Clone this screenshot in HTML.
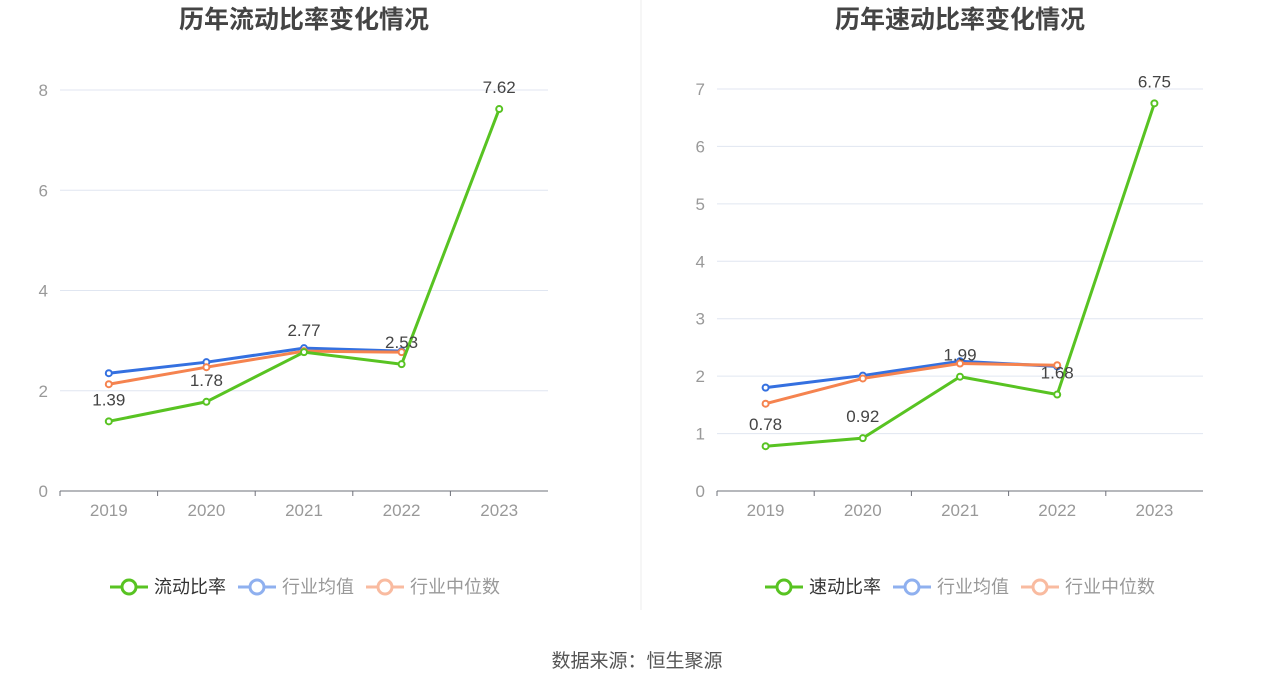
<!DOCTYPE html>
<html><head><meta charset="utf-8">
<style>
body{margin:0;background:#fff;font-family:"Liberation Sans","Noto Sans CJK SC",sans-serif;}
svg text{font-family:"Liberation Sans","Noto Sans CJK SC",sans-serif;}
</style></head>
<body>
<svg id="c" width="1275" height="688" xmlns="http://www.w3.org/2000/svg">
<line x1="641" y1="0" x2="641" y2="610" stroke="#eee" stroke-width="1"/>
<text x="637" y="667" text-anchor="middle" font-size="19" fill="#555">数据来源：恒生聚源</text>
</svg>
<script>
const years=["2019","2020","2021","2022","2023"];
const leftMain=[1.39,1.78,2.77,2.53,7.62];
const leftAvg=[2.35,2.57,2.85,2.79];
const leftMed=[2.13,2.47,2.79,2.77];
const leftTicks=[0,2,4,6,8];
const rightMain=[0.78,0.92,1.99,1.68,6.75];
const rightAvg=[1.80,2.01,2.26,2.17];
const rightMed=[1.52,1.96,2.22,2.19];
const rightTicks=[0,1,2,3,4,5,6,7];
const svg=document.getElementById('c');
const NS="http://www.w3.org/2000/svg";
function mk(tag,attrs,parent){const e=document.createElementNS(NS,tag);for(const k in attrs)e.setAttribute(k,attrs[k]);(parent||svg).appendChild(e);return e;}
function panel(cfg){
  const g=mk('g',{});
  
  
  const ticks=cfg.ticks, max=ticks[ticks.length-1];
  const y=v=>cfg.y0-(v/max)*(cfg.y0-cfg.yTop);
  const bw=(cfg.x1-cfg.x0)/years.length;
  const x=i=>cfg.x0+bw*(i+0.5);
  const t=mk('text',{x:(cfg.x0+cfg.x1)/2,y:28,'text-anchor':'middle','font-size':25,'font-weight':'bold',fill:'#444'},g);
  t.textContent=cfg.title;
  
  
  ticks.forEach(v=>{
    if(v>0){const l=mk('line',{x1:cfg.x0,x2:cfg.x1,y1:y(v),y2:y(v),stroke:'#e0e6f1'},g);
      
      }
    const tl=mk('text',{x:cfg.x0-12,y:y(v)+6,'text-anchor':'end','font-size':17,fill:'#999'},g);
    tl.textContent=v;
    
    
  });
  const ax=mk('line',{x1:cfg.x0,x2:cfg.x1,y1:cfg.y0,y2:cfg.y0,stroke:'#6e7079'},g);
  
  
  years.forEach((yr,i)=>{
    const tk=mk('line',{x1:cfg.x0+bw*i,x2:cfg.x0+bw*i,y1:cfg.y0,y2:cfg.y0+5,stroke:'#6e7079'},g);
    
    
    const tl=mk('text',{x:x(i),y:cfg.y0+25,'text-anchor':'middle','font-size':17,fill:'#999'},g);
    tl.textContent=yr;
    
    
  });
  const series=[[cfg.avg,'#3470e0','industry-avg'],[cfg.med,'#f5834f','industry-median'],[cfg.main,'#58c322','main-ratio']];
  series.forEach(([d,c,n])=>{
    const p=mk('polyline',{points:d.map((v,i)=>x(i)+','+y(v)).join(' '),fill:'none',stroke:c,'stroke-width':3},g);
    
    
    d.forEach((v,i)=>{
      const pt=mk('circle',{cx:x(i),cy:y(v),r:3,fill:'#fff',stroke:c,'stroke-width':2},g);
      
      
    });
  });
  cfg.main.forEach((v,i)=>{
    const l=mk('text',{x:x(i),y:y(v)-16,'text-anchor':'middle','font-size':17,fill:'#444'},g);
    l.textContent=v.toFixed(2);
    
    
  });
  const leg=[[cfg.mainName,'#58c322','#333'],['行业均值','#8fb0ef','#999'],['行业中位数','#f9bba0','#999']];
  let lx=cfg.legendX;
  leg.forEach(([name,c,tc])=>{
    const lg=mk('g',{},g);
    
    
    mk('line',{x1:lx,x2:lx+38,y1:587,y2:587,stroke:c,'stroke-width':3},lg);
    mk('circle',{cx:lx+19,cy:587,r:7,fill:'#fff',stroke:c,'stroke-width':3},lg);
    const tt=mk('text',{x:lx+44,y:593,'font-size':18,fill:tc},lg);
    tt.textContent=name;
    lx+=44+name.length*18+12;
  });
}
panel({name:'current-ratio-panel',title:'历年流动比率变化情况',mainName:'流动比率',x0:60,x1:548,y0:491,yTop:90,ticks:leftTicks,main:leftMain,avg:leftAvg,med:leftMed,legendX:110});
panel({name:'quick-ratio-panel',title:'历年速动比率变化情况',mainName:'速动比率',x0:717,x1:1203,y0:491,yTop:89,ticks:rightTicks,main:rightMain,avg:rightAvg,med:rightMed,legendX:765});
</script>
</body></html>
